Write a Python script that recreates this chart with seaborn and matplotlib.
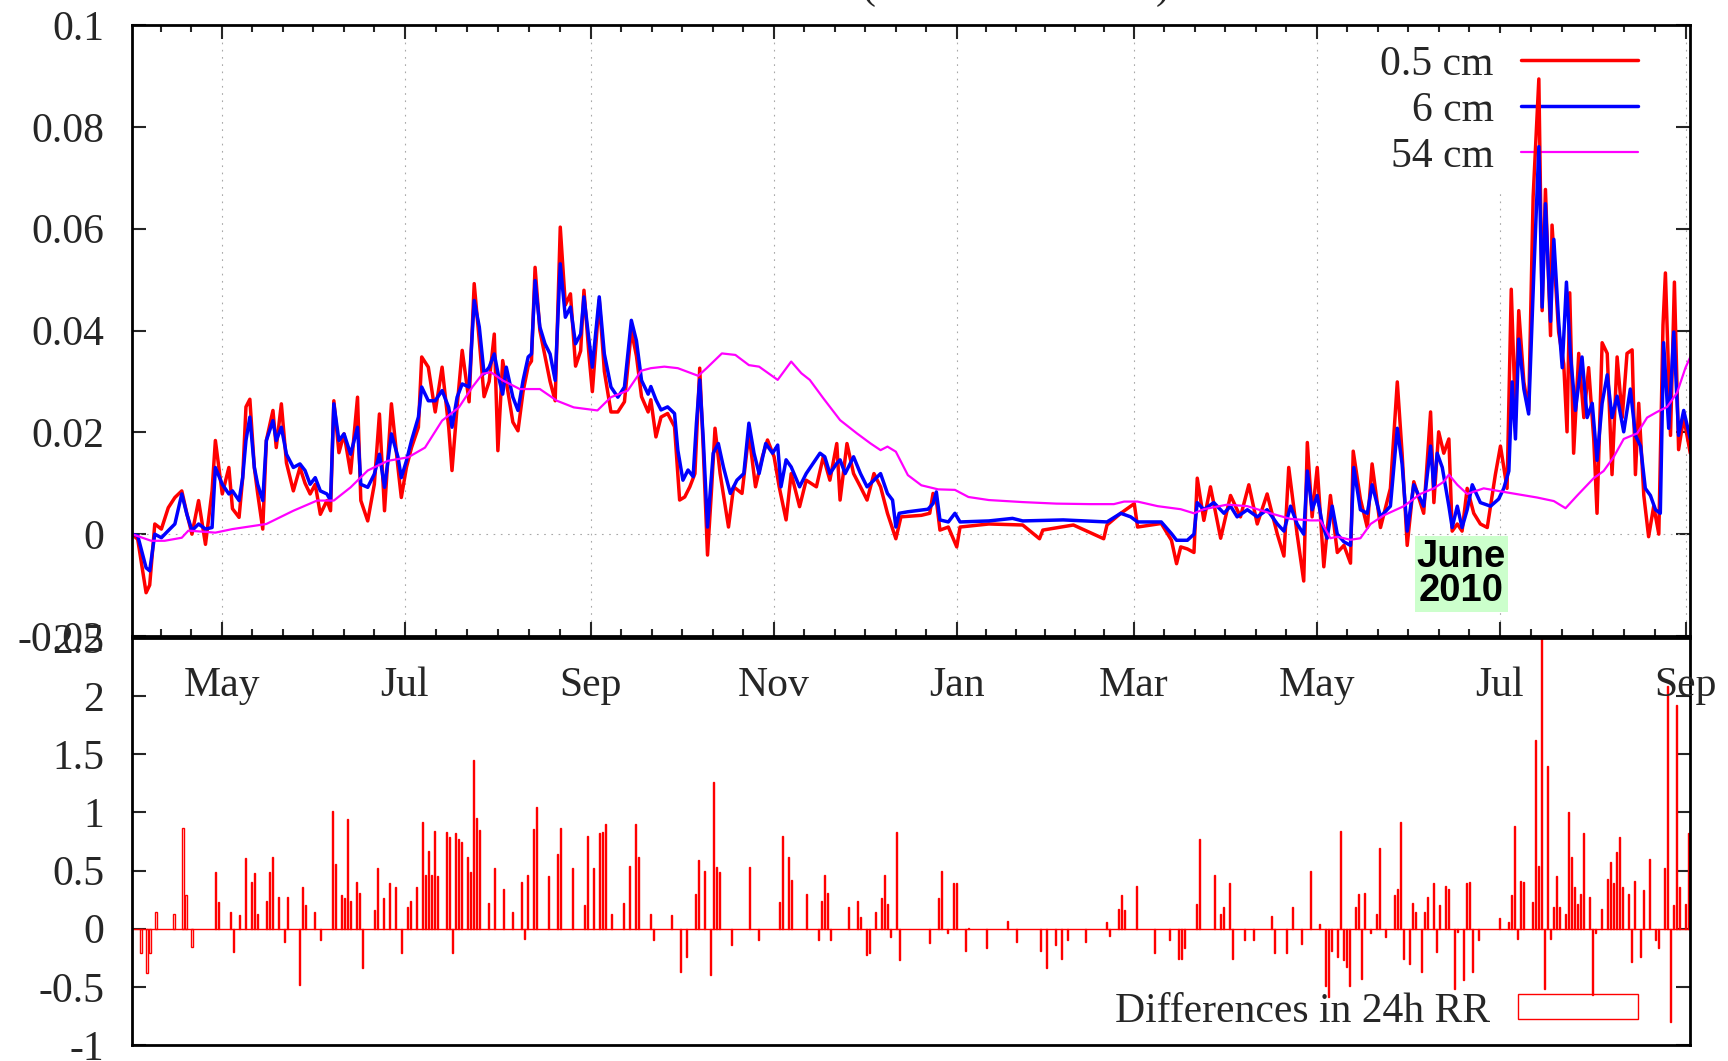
import numpy as np
import pandas as pd
import matplotlib
matplotlib.use("Agg")
import matplotlib.pyplot as plt
import matplotlib.dates as mdates
from matplotlib.ticker import FixedLocator, FuncFormatter
import seaborn as sns

# ---------------- data (day offset from 2009-04-01, value) ----------------
START = pd.Timestamp("2009-04-01")

series_05cm = [
    (0, 0), (1.9, -0.001), (4.7, -0.0115), (5.9, -0.010), (7.6, 0.002), (9.8, 0.001), (12.1, 0.0052),
    (14.3, 0.0072), (16.6, 0.0085), (18.3, 0.004), (20.0, 0.0), (22.2, 0.0066), (24.5, -0.002),
    (26.7, 0.0085), (27.8, 0.0184), (30.1, 0.0079), (32.3, 0.0131), (33.5, 0.005), (35.7, 0.0033),
    (36.9, 0.011), (38.0, 0.025), (39.3, 0.0265), (40.8, 0.013), (41.9, 0.008), (43.6, 0.001),
    (44.8, 0.0184), (47.0, 0.0243), (48.1, 0.017), (49.8, 0.0256), (51.5, 0.014), (53.8, 0.0085),
    (56.0, 0.0131), (57.7, 0.010), (59.4, 0.0079), (61.1, 0.0098), (62.8, 0.0039), (65.0, 0.0066),
    (66.2, 0.0046), (67.3, 0.0262), (69.0, 0.016), (70.7, 0.0197), (72.9, 0.012), (75.2, 0.0269),
    (76.3, 0.0066), (78.6, 0.0026), (80.8, 0.0098), (82.5, 0.0236), (84.2, 0.0046), (86.5, 0.0256),
    (88.7, 0.013), (89.8, 0.0072), (91.5, 0.0131), (93.2, 0.017), (95.5, 0.021), (96.6, 0.0348),
    (98.8, 0.0328), (101.1, 0.024), (103.4, 0.0328), (105.6, 0.021), (106.7, 0.0125), (108.4, 0.025),
    (110.1, 0.0361), (112.4, 0.026), (114.1, 0.0492), (115.8, 0.038), (117.4, 0.027), (119.1, 0.03),
    (120.8, 0.0393), (122.0, 0.0164), (123.6, 0.0341), (124.8, 0.03), (127.0, 0.022), (128.7, 0.0203),
    (130.4, 0.028), (132.1, 0.033), (133.2, 0.034), (134.4, 0.0524), (136.0, 0.04), (137.7, 0.035),
    (139.4, 0.03), (141.1, 0.0262), (142.8, 0.0603), (144.5, 0.045), (146.2, 0.0472), (147.9, 0.033),
    (149.6, 0.036), (150.7, 0.0479), (152.4, 0.035), (153.5, 0.028), (155.8, 0.046), (157.5, 0.032),
    (159.7, 0.024), (162.0, 0.024), (164.2, 0.026), (166.5, 0.04), (168.2, 0.035), (169.9, 0.027),
    (172.1, 0.024),
    (173.0, 0.0264), (174.7, 0.0191), (176.4, 0.023), (178.6, 0.0237), (180.9, 0.0211), (182.6, 0.0067),
    (184.3, 0.0073), (186.0, 0.0093), (187.7, 0.0119), (189.3, 0.0326), (190.5, 0.0165), (191.9, -0.0041),
    (193.3, 0.0093), (194.4, 0.0208), (196.1, 0.0119), (198.9, 0.0014), (200.6, 0.0093), (203.4, 0.008),
    (205.7, 0.0198), (207.9, 0.0093), (210.2, 0.0152), (211.9, 0.0185), (214.1, 0.0152), (215.8, 0.0093),
    (218.1, 0.0028), (219.8, 0.0119), (222.6, 0.0054), (224.8, 0.0106), (228.2, 0.0093), (230.5, 0.0152),
    (232.7, 0.0106), (235.0, 0.0178), (236.1, 0.0067), (238.4, 0.0178), (240.6, 0.0119), (242.9, 0.0093),
    (245.1, 0.0067), (247.4, 0.0119), (249.6, 0.0093), (251.9, 0.0041), (254.7, -0.0009), (256.4, 0.0034),
    (263.2, 0.0037), (266.0, 0.0041), (267.1, 0.008), (268.2, 0.0067), (269.4, 0.0008), (272.2, 0.0014),
    (275.0, -0.0025), (276.1, 0.0014), (285.7, 0.002), (297.0, 0.0018), (302.6, -0.0009), (303.7, 0.0008),
    (313.9, 0.0018), (324.0, -0.0009), (325.1, 0.0018), (329.7, 0.0041), (334.2, 0.006), (335.3, 0.0014),
    (343.2, 0.0021), (346.6, -0.0012), (348.3, -0.0058), (349.7, -0.0025),
    (351.9, -0.0029), (354.1, -0.0036), (355.2, 0.011), (357.4, 0.0027), (359.6, 0.0093), (363.0, -0.0008),
    (366.3, 0.0076), (369.6, 0.0034), (372.4, 0.0097), (375.2, 0.002), (378.5, 0.0079), (381.9, 0.0),
    (384.1, -0.0043), (385.7, 0.0131), (388.5, 0.0), (390.7, -0.0092), (391.9, 0.018), (393.5, 0.0034),
    (395.2, 0.0131), (397.4, -0.0064), (399.6, 0.0076), (401.9, -0.0036), (404.1, -0.0022), (406.3, -0.0057),
    (407.2, 0.0163), (409.6, 0.0069), (411.9, 0.0013), (413.5, 0.0138), (416.3, 0.0013), (419.6, 0.009),
    (421.9, 0.0299), (423.5, 0.0159), (425.2, -0.0022), (427.4, 0.0103), (430.7, 0.0041), (433.0, 0.024),
    (434.1, 0.0062), (435.7, 0.0201), (437.4, 0.0159), (439.1, 0.0187), (440.2, 0.0006), (441.9, 0.002),
    (443.5, 0.0006), (445.2, 0.009), (447.4, 0.0041), (449.6, 0.002), (451.9, 0.0013), (454.6, 0.0117),
    (456.3, 0.0173), (458.5, 0.009), (459.9, 0.0481), (461.3, 0.0229), (462.4, 0.0439), (464.1, 0.0299),
    (465.7, 0.0243), (467.2, 0.0663), (469.1, 0.0894), (470.2, 0.0439), (471.3, 0.0677), (473.0, 0.039),
    (473.5, 0.0607), (475.7, 0.0397), (477.4, 0.0334), (478.5, 0.0201), (479.4, 0.0474), (480.7, 0.0159),
    (482.4, 0.0355), (484.1, 0.0229), (485.7, 0.0327), (487.4, 0.0187), (488.5, 0.0041), (490.2, 0.0376),
    (491.9, 0.0355), (493.5, 0.0117), (495.2, 0.0348), (496.9, 0.0229), (498.5, 0.0355), (500.2, 0.0362),
    (501.3, 0.0117), (502.4, 0.0257), (504.1, 0.0076), (505.7, -0.0005), (507.4, 0.0055), (509.1, 0.0),
    (510.5, 0.0411), (511.3, 0.0513), (513.0, 0.0194), (514.3, 0.0495), (515.7, 0.0166), (517.4, 0.0229),
    (519.6, 0.0159),
]

series_6cm = [
    (0, 0), (1.9, -0.0003), (4.7, -0.0066), (5.9, -0.0072), (7.6, 0.0), (9.8, -0.0007), (12.1, 0.0007),
    (14.3, 0.002), (16.6, 0.0079), (18.3, 0.0039), (20.0, 0.0007), (22.2, 0.002), (24.5, 0.001),
    (26.7, 0.0013), (27.8, 0.0131), (30.1, 0.0098), (32.3, 0.0079), (33.5, 0.0085), (35.7, 0.0066),
    (36.9, 0.0111), (38.0, 0.0184), (39.3, 0.023), (40.8, 0.0131), (41.9, 0.0098), (43.6, 0.0066),
    (44.8, 0.0184), (47.0, 0.0223), (48.1, 0.0184), (49.8, 0.021), (51.5, 0.0157), (53.8, 0.0131),
    (56.0, 0.0138), (57.7, 0.0125), (59.4, 0.0098), (61.1, 0.0111), (62.8, 0.0085), (65.0, 0.0079),
    (66.2, 0.0066), (67.3, 0.0256), (69.0, 0.0184), (70.7, 0.0197), (72.9, 0.0157), (75.2, 0.021),
    (76.3, 0.0098), (78.6, 0.0092), (80.8, 0.0118), (82.5, 0.0157), (84.2, 0.0092), (86.5, 0.0197),
    (88.7, 0.0151), (89.8, 0.0111), (91.5, 0.0144), (93.2, 0.0184), (95.5, 0.023), (96.6, 0.0289),
    (98.8, 0.0262), (101.1, 0.0262), (103.4, 0.0282), (105.6, 0.0249), (106.7, 0.021), (108.4, 0.0269),
    (110.1, 0.0295), (112.4, 0.0289), (114.1, 0.0459), (115.8, 0.0407), (117.4, 0.0315), (119.1, 0.0328),
    (120.8, 0.0354), (122.5, 0.0302), (123.6, 0.0275), (124.8, 0.0328), (127.0, 0.0269), (128.7, 0.0243),
    (130.4, 0.0302), (132.1, 0.0348), (133.2, 0.0354), (134.4, 0.0498), (136.0, 0.0407), (137.7, 0.0374),
    (139.4, 0.0354), (141.1, 0.0302), (142.8, 0.0531), (144.5, 0.0426), (146.2, 0.0446), (147.9, 0.0374),
    (149.6, 0.0393), (150.7, 0.0466), (152.4, 0.038), (153.5, 0.0328), (155.8, 0.0466), (157.5, 0.0354),
    (159.7, 0.0289), (162.0, 0.0269), (164.2, 0.0289), (166.5, 0.042), (168.2, 0.038), (169.9, 0.0302),
    (172.1, 0.0275),
    (173.0, 0.029), (174.7, 0.0264), (176.4, 0.0244), (178.6, 0.025), (180.9, 0.0237), (182.0, 0.0165),
    (183.7, 0.0106), (185.4, 0.0126), (187.1, 0.0113), (188.2, 0.0218), (189.3, 0.0303), (190.5, 0.0185),
    (191.9, 0.0014), (193.8, 0.0159), (195.5, 0.0178), (197.2, 0.0132), (199.5, 0.008), (201.7, 0.0106),
    (204.0, 0.0119), (205.7, 0.0218), (207.4, 0.0159), (209.1, 0.0119), (211.3, 0.0178), (213.6, 0.0159),
    (215.3, 0.0175), (216.4, 0.0093), (218.1, 0.0146), (219.8, 0.0132), (222.6, 0.0093), (224.8, 0.0119),
    (227.1, 0.0139), (229.4, 0.0159), (231.0, 0.0152), (232.7, 0.0119), (235.0, 0.0139), (236.1, 0.0146),
    (237.8, 0.0119), (240.6, 0.0152), (242.9, 0.0119), (245.1, 0.0093), (247.4, 0.0106), (249.6, 0.0119),
    (251.9, 0.008), (253.6, 0.0067), (254.7, 0.0014), (255.8, 0.0041), (258.7, 0.0044), (265.4, 0.0049),
    (267.1, 0.006), (268.2, 0.0083), (269.4, 0.0028), (272.2, 0.0024), (274.4, 0.0041), (276.1, 0.0024),
    (285.7, 0.0026), (293.6, 0.0031), (297.0, 0.0026), (310.5, 0.0028), (325.1, 0.0024), (329.7, 0.0041),
    (333.0, 0.0034), (335.3, 0.0024), (343.2, 0.0024), (346.6, 0.0001), (348.3, -0.0012),
    (351.9, -0.0012), (354.1, 0.0), (355.2, 0.0062), (357.4, 0.0048), (360.7, 0.0062), (364.1, 0.0041),
    (366.3, 0.0055), (368.5, 0.0034), (371.9, 0.0048), (375.2, 0.0034), (378.5, 0.0048), (381.9, 0.002),
    (384.1, 0.0006), (386.3, 0.0055), (388.5, 0.002), (390.7, 0.0), (391.9, 0.0124), (393.5, 0.0048),
    (395.2, 0.0076), (396.9, 0.002), (398.5, -0.0008), (400.2, 0.0055), (401.9, 0.0), (404.1, -0.0015),
    (406.3, -0.0022), (407.4, 0.0131), (409.6, 0.0048), (411.9, 0.0041), (413.5, 0.0097), (416.3, 0.0034),
    (419.6, 0.0055), (421.9, 0.0208), (423.5, 0.0138), (425.2, 0.0006), (427.4, 0.0097), (430.7, 0.0055),
    (433.0, 0.0173), (434.1, 0.009), (435.2, 0.0159), (436.9, 0.0131), (439.1, 0.0055), (440.2, 0.0013),
    (441.9, 0.0055), (443.5, 0.0013), (445.2, 0.0048), (446.9, 0.0097), (449.6, 0.0062), (453.0, 0.0055),
    (455.7, 0.0069), (457.4, 0.009), (459.1, 0.0124), (460.2, 0.0299), (461.3, 0.0187), (462.4, 0.0383),
    (464.1, 0.0285), (465.7, 0.0236), (467.4, 0.0509), (469.1, 0.0761), (470.2, 0.0446), (471.3, 0.0649),
    (473.0, 0.0418), (474.1, 0.0579), (475.7, 0.0418), (476.9, 0.0327), (478.3, 0.0495), (479.6, 0.0355),
    (481.3, 0.0243), (483.5, 0.0348), (485.2, 0.0229), (486.9, 0.0257), (488.5, 0.0145), (490.2, 0.0257),
    (491.9, 0.0313), (493.5, 0.0229), (495.2, 0.0271), (497.4, 0.0201), (499.6, 0.0285), (501.3, 0.0194),
    (503.0, 0.0173), (504.6, 0.009), (506.3, 0.0076), (508.0, 0.0048), (509.6, 0.0041), (510.7, 0.0376),
    (512.4, 0.0208), (514.1, 0.0397), (515.7, 0.0194), (517.4, 0.0243), (519.6, 0.0187),
]

series_54cm = [
    (0, 0.0), (6.4, -0.0013), (10.9, -0.0013), (16.6, -0.0007), (18.8, 0.0007), (27.8, 0.0003),
    (33.5, 0.001), (44.8, 0.002), (53.8, 0.0046), (61.7, 0.0066), (67.3, 0.0066), (72.9, 0.0092),
    (78.6, 0.0125), (85.3, 0.0144), (92.1, 0.0151), (97.7, 0.017), (103.4, 0.0223), (109.0, 0.0249),
    (113.5, 0.0289), (116.9, 0.0315), (119.7, 0.0318), (123.6, 0.0302), (129.3, 0.0285), (136.0, 0.0285),
    (141.7, 0.0262), (147.3, 0.0249), (155.2, 0.0243), (159.7, 0.0269), (165.3, 0.0282), (169.8, 0.0321),
    (173.0, 0.0326), (177.5, 0.0329), (182.0, 0.0326), (188.8, 0.0311), (191.6, 0.0326), (196.7, 0.0355),
    (201.2, 0.0352), (205.7, 0.0332), (209.1, 0.0329), (215.3, 0.0303), (219.8, 0.0339), (223.2, 0.0316),
    (226.0, 0.0303), (230.5, 0.0267), (236.1, 0.0224), (241.7, 0.0198), (246.3, 0.0178), (249.6, 0.0165),
    (251.9, 0.0172), (254.7, 0.0162), (258.7, 0.0116), (263.2, 0.0096), (268.8, 0.0088), (274.4, 0.0087),
    (278.9, 0.0073), (285.7, 0.0067), (297.0, 0.0063), (308.2, 0.006), (319.5, 0.0059), (327.4, 0.0059),
    (330.8, 0.0064), (335.3, 0.0064), (342.0, 0.0055), (349.7, 0.0049), (354.1, 0.0041), (357.4, 0.0049),
    (365.2, 0.0058), (371.9, 0.0055), (379.6, 0.0041), (386.3, 0.003), (393.0, 0.0027), (396.3, 0.0027),
    (399.6, -0.0008), (401.9, -0.0005), (406.3, -0.0011), (409.6, -0.0008), (413.0, 0.002), (417.4, 0.0037),
    (424.1, 0.0055), (429.6, 0.0079), (434.1, 0.009), (437.4, 0.0103), (439.1, 0.0117), (441.9, 0.0097),
    (445.2, 0.0079), (450.7, 0.009), (457.4, 0.0083), (468.5, 0.0072), (474.1, 0.0065), (478.0, 0.0051),
    (481.9, 0.0076), (487.4, 0.011), (490.7, 0.0124), (494.1, 0.0152), (497.4, 0.0187), (501.9, 0.0198),
    (505.2, 0.0229), (508.5, 0.024), (511.9, 0.025), (515.2, 0.0278), (518.0, 0.0327), (519.6, 0.0348),
]

# daily differences in 24h RR (day offset, value)
diff_24h_rr = [
    (3, -0.21), (5, -0.385), (6, -0.21), (8, 0.14), (14, 0.13), (17, 0.87), (18, 0.29), (20, -0.16),
    (28, 0.49), (29, 0.23), (33, 0.14), (34, -0.2), (36, 0.12), (38, 0.61), (40, 0.40), (41, 0.48),
    (42, 0.13), (45, 0.24), (46, 0.49), (47, 0.62), (49, 0.27), (51, -0.11), (52, 0.27), (56, -0.485),
    (57, 0.36), (58, 0.2), (61, 0.14), (63, -0.1), (67, 1.01), (68, 0.56), (70, 0.29), (71, 0.26),
    (72, 0.94), (73, 0.24), (75, 0.40), (76, 0.31), (77, -0.34), (81, 0.16), (82, 0.52), (84, 0.26),
    (86, 0.39), (88, 0.36), (90, -0.21), (92, 0.19), (93, 0.24), (95, 0.36), (97, 0.92), (98, 0.46),
    (99, 0.67), (100, 0.46), (101, 0.84), (102, 0.45), (105, 0.83), (106, 0.79), (107, -0.21), (108, 0.82),
    (109, 0.77), (110, 0.75), (112, 0.62), (113, 0.49), (114, 1.45), (115, 0.95), (116, 0.85), (119, 0.22),
    (121, 0.52), (124, 0.34), (127, 0.14), (130, 0.40), (131, -0.09), (132, 0.46), (134, 0.86), (135, 1.05),
    (139, 0.45), (142, 0.64), (143, 0.87), (147, 0.52), (151, 0.2), (152, 0.80), (154, 0.52), (156, 0.82),
    (157, 0.83), (158, 0.90), (160, 0.13), (164, 0.22), (166, 0.54), (168, 0.90), (169, 0.62), (173, 0.13),
    (174, -0.1), (180, 0.12), (183, -0.37), (185, -0.24), (188, 0.3), (189, 0.59), (191, 0.5), (193, -0.4),
    (194, 1.26), (195, 0.53), (196, 0.49), (200, -0.14), (206, 0.53), (209, -0.1), (216, 0.23), (217, 0.8),
    (219, 0.62), (220, 0.42), (225, 0.3), (229, -0.1), (230, 0.24), (231, 0.46), (232, 0.31), (233, -0.1),
    (239, 0.19), (242, 0.24), (243, 0.1), (245, -0.23), (246, -0.21), (248, 0.14), (250, 0.26), (251, 0.46),
    (252, 0.21), (253, -0.07), (255, 0.83), (256, -0.27), (266, -0.12), (269, 0.26), (270, 0.5), (272, -0.04),
    (274, 0.39), (275, 0.39), (278, -0.19), (279, 0.01), (285, -0.17), (292, 0.07), (295, -0.11), (303, -0.19),
    (305, -0.34), (308, -0.14), (310, -0.26), (312, -0.1), (318, -0.11), (325, 0.06), (326, -0.06), (329, 0.17),
    (330, 0.29), (331, 0.16), (335, 0.37), (341, -0.21), (346, -0.1), (349, -0.26), (350, -0.26), (351, -0.17),
    (355, 0.21), (356, 0.77), (361, 0.46), (363, 0.13), (364, 0.19), (366, 0.39), (367, -0.26), (371, -0.1),
    (374, -0.1), (380, 0.11), (381, -0.21), (385, -0.21), (387, 0.19), (390, -0.13), (393, 0.5), (396, 0.04),
    (398, -0.49), (399, -0.59), (400, -0.19), (402, -0.24), (403, 0.84), (404, -0.27), (405, -0.33),
    (406, -0.49), (408, 0.19), (409, 0.3), (410, -0.43), (411, 0.31), (413, -0.04), (415, 0.13), (416, 0.69),
    (418, -0.07), (421, 0.29), (422, 0.34), (423, 0.92), (424, -0.26), (426, -0.3), (427, 0.22), (428, 0.14),
    (430, -0.37), (431, 0.14), (432, 0.27), (434, 0.39), (435, -0.2), (436, 0.2), (438, 0.37), (439, 0.34),
    (441, -0.52), (442, -0.03), (444, -0.44), (445, 0.39), (446, 0.4), (447, -0.37), (449, -0.1), (456, 0.09),
    (459, 0.06), (460, 0.29), (461, 0.88), (462, -0.09), (463, 0.41), (464, 0.4), (467, 0.23), (468, 1.62),
    (469, 0.54), (470, 2.55), (471, -0.52), (472, 1.4), (473, -0.09), (474, 0.19), (475, 0.45), (476, 0.19),
    (478, 0.13), (479, 1.0), (480, 0.62), (481, 0.36), (482, 0.21), (483, 0.3), (484, 0.82), (486, 0.27),
    (487, -0.57), (488, -0.04), (490, 0.17), (492, 0.43), (493, 0.57), (494, 0.39), (495, 0.66), (496, 0.79),
    (497, 0.36), (499, 0.3), (500, -0.29), (501, 0.41), (503, -0.24), (504, 0.33), (506, 0.6), (508, -0.1),
    (509, -0.17), (511, 0.52), (512, 2.09), (513, -0.8), (514, 0.2), (515, 1.92), (516, 0.36), (518, 0.21),
    (519, 0.82),
]

labels_top = ["0.5 cm", "6 cm", "54 cm"]
label_bottom = "Differences in 24h RR"
annotation_text = "June\n2010"

# ---------------- figure ----------------
sns.set_style("white")
plt.rcParams["font.family"] = ["Liberation Serif", "DejaVu Serif"]

W, H = 1728, 1061
fig = plt.figure(figsize=(W / 100, H / 100), dpi=100)
ax1 = fig.add_axes([132 / W, (H - 636) / H, (1690 - 132) / W, (636 - 25) / H])
ax2 = fig.add_axes([132 / W, (H - 1045) / H, (1690 - 132) / W, (1045 - 638) / H])
ax2.patch.set_alpha(0)
ax1.set_zorder(1)
ax1.patch.set_alpha(0)


def to_df(series):
    d = np.array([p[0] for p in series], dtype=float)
    v = np.array([p[1] for p in series], dtype=float)
    return pd.DataFrame({"date": START + pd.to_timedelta(d, unit="D"), "value": v})


df05, df6, df54 = to_df(series_05cm), to_df(series_6cm), to_df(series_54cm)
sns.lineplot(data=df05, x="date", y="value", color="#ff0000", lw=2.5, ax=ax1,
             estimator=None, sort=False, label=labels_top[0], zorder=2)
sns.lineplot(data=df6, x="date", y="value", color="#0000ff", lw=2.5, ax=ax1,
             estimator=None, sort=False, label=labels_top[1], zorder=2.1)
sns.lineplot(data=df54, x="date", y="value", color="#ff00ff", lw=1.6, ax=ax1,
             estimator=None, sort=False, label=labels_top[2], zorder=2.2)

xmin = START
xmax = pd.Timestamp("2010-09-02 12:00")
for ax in (ax1, ax2):
    ax.set_xlim(xmin, xmax)
    ax.set_xlabel("")
    ax.set_ylabel("")
    for s in ax.spines.values():
        s.set_linewidth(2.0)
        s.set_color("black")
        s.set_visible(True)

# x ticks (top panel)
major_dates = pd.date_range("2009-05-01", "2010-09-01", freq="2MS")
major_nums = mdates.date2num(major_dates.to_pydatetime())
edges = [mdates.date2num(pd.Timestamp("2009-03-01").to_pydatetime())] + list(major_nums) + \
        [mdates.date2num(pd.Timestamp("2010-11-01").to_pydatetime())]
lo, hi = mdates.date2num(xmin.to_pydatetime()), mdates.date2num(xmax.to_pydatetime())
minor_nums = []
for a, b in zip(edges[:-1], edges[1:]):
    for k in range(1, 6):
        t = a + (b - a) * k / 6
        if lo <= t <= hi:
            minor_nums.append(t)
ax1.xaxis.set_major_locator(FixedLocator(major_nums))
ax1.xaxis.set_minor_locator(FixedLocator(minor_nums))
ax1.xaxis.set_major_formatter(mdates.DateFormatter("%b"))
ax1.tick_params(axis="x", which="major", direction="in", top=True, bottom=True, length=10, width=1.5,
                labelsize=30, pad=22)
ax1.tick_params(axis="x", which="minor", direction="in", top=True, bottom=True, length=5, width=1.5)
ax1.grid(axis="x", which="major", color="#a8a8a8", lw=0.8, linestyle=(0, (1.5, 5)))
ax1.axhline(0, color="#a8a8a8", lw=0.8, linestyle=(0, (1.5, 5)), zorder=0.6)

ax1.set_ylim(-0.02, 0.1)
ax1.yaxis.set_major_locator(FixedLocator([-0.02, 0, 0.02, 0.04, 0.06, 0.08, 0.1]))
ax1.yaxis.set_major_formatter(FuncFormatter(lambda v, p: "%g" % round(v, 4)))
ax1.tick_params(axis="y", which="major", direction="in", left=True, right=True, length=10, width=1.5,
                labelsize=30, pad=20)

leg1 = ax1.legend(loc="upper right", bbox_to_anchor=(1650 / W, (H - 33) / H), bbox_transform=fig.transFigure,
                  markerfirst=False, frameon=True, facecolor="white", edgecolor="none", framealpha=1,
                  fontsize=30, handlelength=2.8, handletextpad=0.65, labelspacing=0.18, borderpad=0.3,
                  borderaxespad=0)
leg1.set_zorder(1.5)
leg1.get_frame().set_linewidth(0)

ax1.text(START + pd.Timedelta(days=443.3), -0.0009, annotation_text, ha="center", va="top",
         fontsize=27.5, fontweight="bold", family=["Liberation Sans", "DejaVu Sans"], linespacing=0.95,
         color="black", zorder=3,
         bbox=dict(boxstyle="square,pad=0.06", facecolor="#ccffcc", edgecolor="none"))

# bottom panel
bar_days = np.array([p[0] for p in diff_24h_rr], dtype=float)
bar_vals = np.array([p[1] for p in diff_24h_rr], dtype=float)
bar_dates = START + pd.to_timedelta(bar_days, unit="D")
ax2.axhline(0, color="#ff0000", lw=1.0, zorder=1)
ax2.bar(bar_dates, bar_vals, width=0.35, fill=False, edgecolor="#ff0000", linewidth=1.0,
        label=label_bottom, zorder=2)
ax2.set_ylim(-1, 2.5)
ax2.yaxis.set_major_locator(FixedLocator([-1, -0.5, 0, 0.5, 1, 1.5, 2, 2.5]))
ax2.yaxis.set_major_formatter(FuncFormatter(lambda v, p: "%g" % v))
ax2.tick_params(axis="y", which="major", direction="in", left=True, right=True, length=10, width=1.5,
                labelsize=30, pad=20)
ax2.tick_params(axis="x", which="both", bottom=False, top=False, labelbottom=False)
ax2.grid(False)

leg2 = ax2.legend(loc="lower right", bbox_to_anchor=(1650 / W, (H - 1043) / H), bbox_transform=fig.transFigure,
                  markerfirst=False, frameon=False, fontsize=30, handlelength=2.88, handleheight=0.55,
                  handletextpad=0.65, borderpad=0.3, borderaxespad=0)

# clipped title line at the very top
fig.text(862 / W, 1 + 2 / H, "(" + " " * 27 + ")", fontsize=30, ha="left", va="baseline")

fig.savefig("out.png", dpi=100)
